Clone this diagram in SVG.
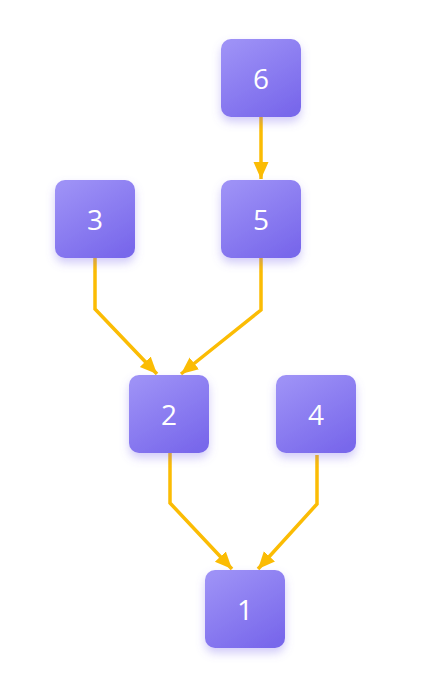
<svg xmlns="http://www.w3.org/2000/svg" width="425" height="675" viewBox="0 0 425 675">
<defs>
<linearGradient id="g" x1="0.2" y1="0" x2="0.8" y2="1">
<stop offset="0" stop-color="#9d91f6"/>
<stop offset="1" stop-color="#7867eb"/>
</linearGradient>
<filter id="sh" x="-30%" y="-30%" width="160%" height="170%">
<feDropShadow dx="0" dy="5" stdDeviation="5" flood-color="#7b6cec" flood-opacity="0.35"/>
</filter>
<marker id="ah" markerUnits="userSpaceOnUse" markerWidth="18" markerHeight="18" viewBox="0 0 18 18" refX="17" refY="9" orient="auto">
<path d="M0,1.5 L17,9 L0,16.5 Z" fill="#fbbc04"/>
</marker>
</defs>
<style>
.n rect{fill:url(#g);filter:url(#sh)}
.n text{fill:#fff;font-family:"Open Sans","Noto Sans",sans-serif;font-size:28px;text-anchor:middle;dominant-baseline:central}
.e path{fill:none;stroke:#fbbc04;stroke-width:3.5;marker-end:url(#ah)}
</style>
<rect width="425" height="675" fill="#fff"/>
<g class="e" id="edges">
<path d="M261,117 L261,179"/>
<path d="M95,258 L95,309 L157,374"/>
<path d="M261,258 L261,310 L181,374"/>
<path d="M170,453 L170,503 L232,569"/>
<path d="M317,455 L317,504 L258,569"/>
</g>
<g class="n" id="n6"><rect x="221" y="39" width="80" height="78" rx="10"/><text x="261" y="78">6</text></g>
<g class="n" id="n3"><rect x="55" y="180" width="80" height="78" rx="10"/><text x="95" y="219">3</text></g>
<g class="n" id="n5"><rect x="221" y="180" width="80" height="78" rx="10"/><text x="261" y="219">5</text></g>
<g class="n" id="n2"><rect x="129" y="375" width="80" height="78" rx="10"/><text x="169" y="414">2</text></g>
<g class="n" id="n4"><rect x="276" y="375" width="80" height="78" rx="10"/><text x="316" y="414">4</text></g>
<g class="n" id="n1"><rect x="205" y="570" width="80" height="78" rx="10"/><text x="245" y="609">1</text></g>
</svg>
